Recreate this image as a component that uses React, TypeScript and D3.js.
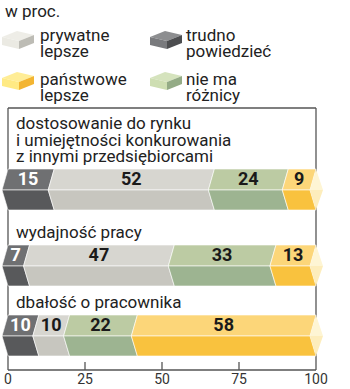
import React from "react";
import * as d3 from "d3";

// data
const categories = [
  ["dostosowanie do rynku", "i umiejętności konkurowania", "z innymi przedsiębiorcami"],
  ["wydajność pracy"],
  ["dbałość o pracownika"],
];
const seriesNames = ["trudno powiedzieć", "prywatne lepsze", "nie ma różnicy", "państwowe lepsze"];
const trudno = [15, 7, 10];
const prywatne = [52, 47, 10];
const nieMa = [24, 33, 22];
const panstwowe = [9, 13, 58];
const xTicks = [0, 25, 50, 75, 100];
const unitLabel = "w proc.";

// colours per series: [top face, bottom face, right side]
const colors: Record<string, string[]> = {
  "trudno powiedzieć": ["#6f7072", "#58595b", "#4d4e50"],
  "prywatne lepsze": ["#d7d6d0", "#c7c6bf", "#bdbcb5"],
  "nie ma różnicy": ["#bccba3", "#9db491", "#94ab86"],
  "państwowe lepsze": ["#fcd679", "#f9c23e", "#f3b532"],
};

const legend = [
  { name: "prywatne lepsze", lines: ["prywatne", "lepsze"], col: 0, row: 0 },
  { name: "trudno powiedzieć", lines: ["trudno", "powiedzieć"], col: 1, row: 0 },
  { name: "państwowe lepsze", lines: ["państwowe", "lepsze"], col: 0, row: 1 },
  { name: "nie ma różnicy", lines: ["nie ma", "różnicy"], col: 1, row: 1 },
];

const font = "Roboto, 'Noto Sans', sans-serif";
const W = 350, H = 389;
const d = 6; // chevron indent
const barH = 41;
const lineH = 16.5;
const rowBaselines = [129, 238, 308];
const frameTop = 108;
const axisY = 370;

function Box({ x, y, c }: { x: number; y: number; c: string[] }) {
  const p = (pts: number[][]) => pts.map((q) => `${x + q[0]},${y + q[1]}`).join(" ");
  return (
    <g>
      <polygon points={p([[0, 6], [15, 0], [32, 4], [17, 10]])} fill={c[0]} opacity={0.85} />
      <polygon points={p([[0, 6], [17, 10], [17, 18], [0, 14]])} fill={c[0]} />
      <polygon points={p([[17, 10], [32, 4], [32, 12], [17, 18]])} fill={c[2]} />
    </g>
  );
}

export default function App() {
  const x = d3.scaleLinear().domain([0, 100]).range([8, 316]);
  const series = [trudno, prywatne, nieMa, panstwowe];
  const rows = categories.map((lines, i) => {
    const values = series.map((s) => s[i]);
    const ends = d3.cumsum(values);
    const top = rowBaselines[i] + (lines.length - 1) * lineH + 7;
    return { lines, values, ends, top, base: rowBaselines[i] };
  });
  const xMax = x(100);

  return (
    <svg width={W} height={H} style={{ position: "absolute", left: 0, top: 0, background: "#fff" }}>
      <text x={5} y={17} fontFamily={font} fontSize={17} fill="#222">{unitLabel}</text>
      {legend.map((l) => {
        const bx = l.col === 0 ? 2 : 150;
        const by = l.row === 0 ? 31 : 72;
        const tx = l.col === 0 ? 40 : 186;
        const ty = l.row === 0 ? 41 : 85;
        return (
          <g key={l.name}>
            <Box x={bx} y={by} c={colors[l.name].map((c, k) => (k === 0 ? d3.color(c)!.brighter(0.25).formatHex() : c))} />
            {l.lines.map((t, k) => (
              <text key={k} x={tx} y={ty + k * 16} fontFamily={font} fontSize={17} fill="#222">{t}</text>
            ))}
          </g>
        );
      })}

      {/* frame */}
      <g stroke="#555" strokeWidth={1.3} fill="none">
        <line x1={x(0)} x2={x(100)} y1={frameTop} y2={frameTop} />
        <line x1={x(0)} x2={x(0)} y1={frameTop} y2={axisY} />
        <line x1={x(100)} x2={x(100)} y1={frameTop} y2={axisY} />
        <line x1={x(0)} x2={x(100)} y1={axisY} y2={axisY} />
        {xTicks.slice(1, -1).map((t) => (
          <line key={t} x1={x(t)} x2={x(t)} y1={axisY - 8} y2={axisY} />
        ))}
      </g>
      {xTicks.map((t) => (
        <text key={t} x={x(t)} y={384} textAnchor="middle" fontFamily={font} fontSize={14} fill="#333">{t}</text>
      ))}

      {rows.map((r, i) => {
        const top = r.top, mid = top + 21, bot = top + barH;
        return (
          <g key={i}>
            {r.lines.map((t, k) => (
              <text key={k} x={16} y={r.base + k * lineH} fontFamily={font} fontSize={17} fill="#222">{t}</text>
            ))}
            {r.values.map((v, j) => {
              const x0 = x(r.ends[j] - v), x1 = x(r.ends[j]);
              const c = colors[seriesNames[j]];
              return (
                <g key={j}>
                  <polygon points={`${x0},${top} ${x1},${top} ${x1 - d},${mid} ${x0 - d},${mid}`} fill={c[0]} stroke="#fff" strokeWidth={0.6} />
                  <polygon points={`${x0 - d},${mid} ${x1 - d},${mid} ${x1},${bot} ${x0},${bot}`} fill={c[1]} stroke="#fff" strokeWidth={0.6} />
                  <text x={(x0 + x1) / 2 - d / 2} y={top + 16} textAnchor="middle" fontFamily={font} fontWeight="bold" fontSize={18} fill={j === 0 ? "#fff" : "#1a1a1a"}>{v}</text>
                </g>
              );
            })}
            <polygon points={`${xMax},${top} ${xMax + 7},${mid} ${xMax - d},${mid}`} fill="#fef5d4" />
            <polygon points={`${xMax - d},${mid} ${xMax + 7},${mid} ${xMax},${bot}`} fill="#fdedbc" />
          </g>
        );
      })}
    </svg>
  );
}
